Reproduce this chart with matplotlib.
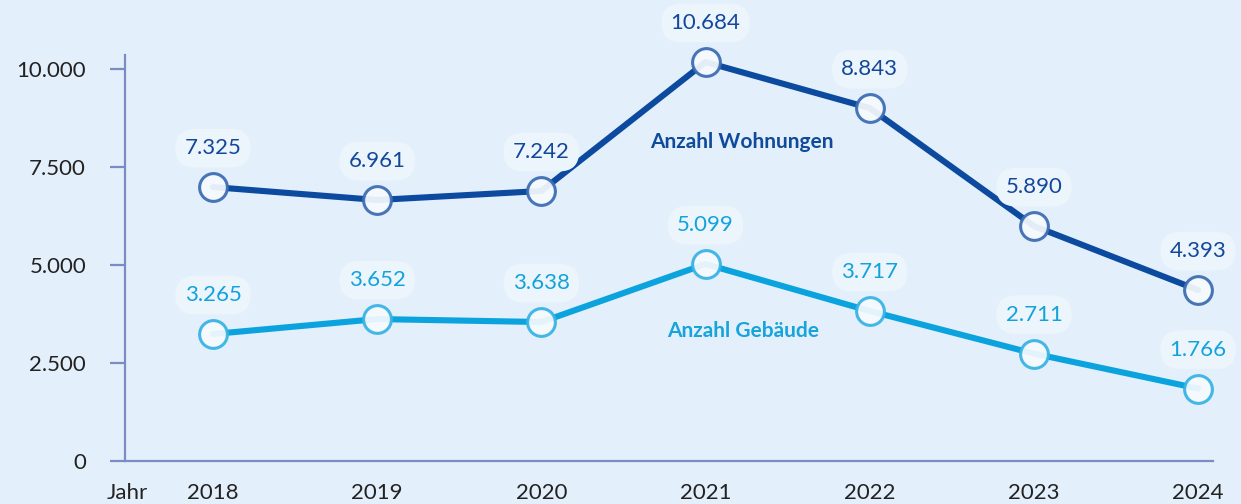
import matplotlib

matplotlib.use("Agg")
import matplotlib.pyplot as plt

years = ["2018", "2019", "2020", "2021", "2022", "2023", "2024"]
# positions as drawn in the chart, and the printed labels
wohnungen = [6990, 6660, 6890, 10180, 9005, 5995, 4362]
wohnungen_labels = ["7.325", "6.961", "7.242", "10.684", "8.843", "5.890", "4.393"]
gebaeude = [3240, 3622, 3546, 5026, 3827, 2740, 1850]
gebaeude_labels = ["3.265", "3.652", "3.638", "5.099", "3.717", "2.711", "1.766"]
yticks = [0, 2500, 5000, 7500, 10000]
ytick_labels = ["0", "2.500", "5.000", "7.500", "10.000"]

BG = "#E3EFFA"
DARK = "#0B4A9E"
DARK_EDGE = "#3B6BB3"
LIGHT = "#0AA3DE"
LIGHT_EDGE = "#36B2E4"
AXIS = "#7B8CC2"

plt.rcParams["font.family"] = ["Lato", "DejaVu Sans"]

fig = plt.figure(figsize=(12.41, 5.04), dpi=100, facecolor=BG)
ax = fig.add_axes([0.1007, 0.0853, 0.8767, 0.8056])
ax.set_facecolor(BG)

x = list(range(len(years)))


def draw_series(vals, labels, color, edge, text_color):
    ax.plot(x, vals, color=color, lw=4.4, solid_capstyle="round", zorder=3, clip_on=False)
    ax.plot(x, vals, ls="none", marker="o", ms=20, mfc="#F6FAFE", mec=edge, mew=2.2,
            alpha=0.93, zorder=4, clip_on=False)
    for xi, v, lab in zip(x, vals, labels):
        ax.annotate(lab, (xi, v), xytext=(0, 28), textcoords="offset points",
                    ha="center", va="center", fontsize=16, color=text_color,
                    annotation_clip=False, zorder=5,
                    bbox=dict(boxstyle="round,pad=0.42,rounding_size=0.9",
                              fc="#EDF5FC", ec="none"))


draw_series(wohnungen, wohnungen_labels, DARK, DARK_EDGE, "#12479A")
draw_series(gebaeude, gebaeude_labels, LIGHT, LIGHT_EDGE, "#12A2DC")

ax.text(3.22, 8150, "Anzahl Wohnungen", ha="center", va="center",
        fontsize=15, fontweight="bold", color="#0F4A9B")
ax.text(3.23, 3310, "Anzahl Gebäude", ha="center", va="center",
        fontsize=15, fontweight="bold", color="#17A3DC")

ax.set_xlim(-0.536, 6.09)
ax.set_ylim(0, 10360)
ax.set_yticks(yticks)
ax.set_yticklabels(ytick_labels)
ax.set_xticks(x)
ax.set_xticklabels(years)

for side in ["top", "right"]:
    ax.spines[side].set_visible(False)
for side in ["left", "bottom"]:
    ax.spines[side].set_color(AXIS)
    ax.spines[side].set_linewidth(1.6)

ax.tick_params(axis="y", length=11, width=1.6, color=AXIS, pad=17,
               labelsize=16, labelcolor="#222222")
ax.tick_params(axis="x", length=0, pad=16, labelsize=16, labelcolor="#222222")

ax.text(-0.52, -0.054, "Jahr", transform=ax.get_xaxis_transform(),
        ha="center", va="top", fontsize=16, color="#222222")

fig.savefig("out.png", dpi=100, facecolor=BG)
